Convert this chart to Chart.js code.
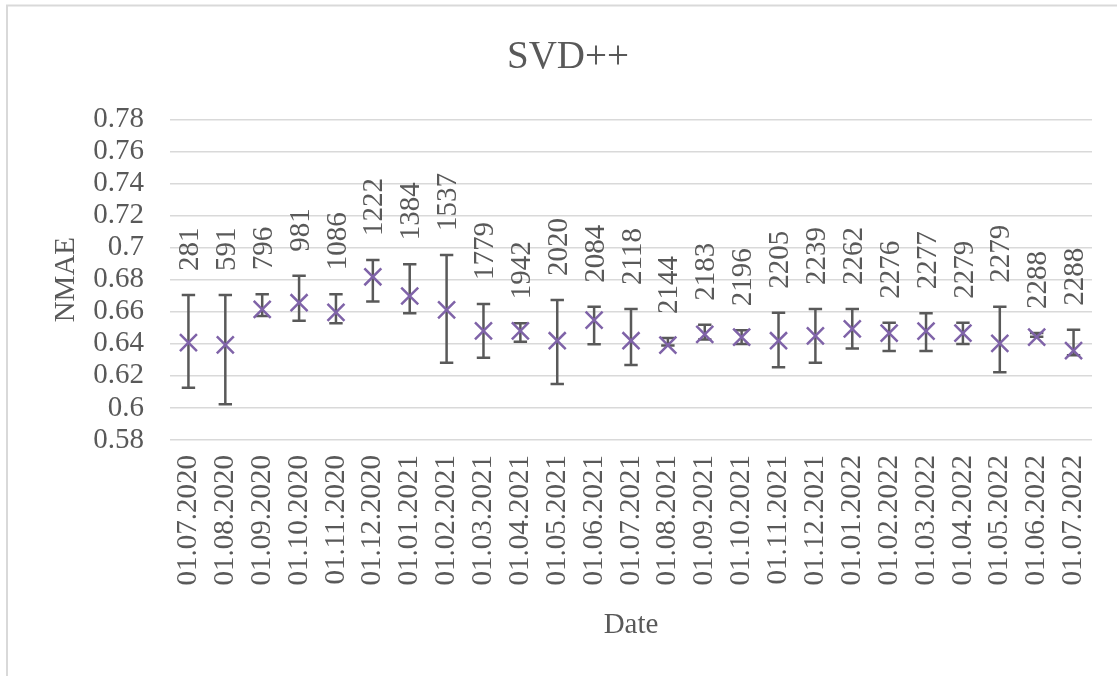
<!DOCTYPE html>
<html>
<head>
<meta charset="utf-8">
<script src="https://cdn.jsdelivr.net/npm/chart.js@4/dist/chart.umd.min.js"></script>
<style>
  html, body { margin: 0; padding: 0; background: #ffffff; overflow: hidden; }
  canvas { display: block; }
</style>
</head>
<body>
<canvas id="c" width="1117" height="676"></canvas>
<script>
// ---- data ----
const dates = ['01.07.2020','01.08.2020','01.09.2020','01.10.2020','01.11.2020','01.12.2020',
  '01.01.2021','01.02.2021','01.03.2021','01.04.2021','01.05.2021','01.06.2021','01.07.2021',
  '01.08.2021','01.09.2021','01.10.2021','01.11.2021','01.12.2021','01.01.2022','01.02.2022',
  '01.03.2022','01.04.2022','01.05.2022','01.06.2022','01.07.2022'];
const nmae = [0.6407,0.6393,0.6615,0.6656,0.6596,0.6818,0.6698,0.6611,0.6480,0.6480,0.6419,0.6548,0.6419,
  0.6392,0.6459,0.6442,0.6419,0.6449,0.6493,0.6467,0.6479,0.6467,0.6403,0.6441,0.6357];
const errLow = [0.6126,0.6023,0.6573,0.6544,0.6528,0.6663,0.6590,0.6282,0.6313,0.6413,0.6149,0.6397,0.6268,
  0.6390,0.6426,0.6399,0.6253,0.6282,0.6370,0.6355,0.6355,0.6399,0.6222,0.6444,0.6328];
const errHigh = [0.6704,0.6704,0.6709,0.6825,0.6709,0.6923,0.6896,0.6954,0.6648,0.6528,0.6673,0.6631,0.6617,
  0.6436,0.6519,0.6484,0.6594,0.6617,0.6617,0.6531,0.6590,0.6531,0.6631,0.6467,0.6488];
const counts = [281,591,796,981,1086,1222,1384,1537,1779,1942,2020,2084,2118,2144,2183,2196,2205,2239,
  2262,2276,2277,2279,2279,2288,2288];
const yTickValues = [0.58,0.60,0.62,0.64,0.66,0.68,0.70,0.72,0.74,0.76,0.78];

const TEXT = '#595959';
const FONT = 'Liberation Serif';

const chartBorder = {
  id: 'chartBorder',
  beforeDraw(chart) {
    const ctx = chart.ctx;
    ctx.save();
    ctx.fillStyle = '#ffffff';
    ctx.fillRect(0, 0, chart.width, chart.height);
    ctx.strokeStyle = '#d9d9d9';
    ctx.lineWidth = 2;
    ctx.beginPath();
    ctx.moveTo(7, chart.height);
    ctx.lineTo(7, 5.5);
    ctx.lineTo(chart.width, 5.5);
    ctx.stroke();
    ctx.restore();
  }
};

const errorBars = {
  id: 'errorBars',
  beforeDatasetsDraw(chart) {
    const ctx = chart.ctx, xs = chart.scales.x, ys = chart.scales.y;
    ctx.save();
    ctx.strokeStyle = '#595959';
    ctx.lineWidth = 2.5;
    const cap = 6.7;
    for (let i = 0; i < nmae.length; i++) {
      const x = xs.getPixelForValue(i);
      const y1 = ys.getPixelForValue(errLow[i]);
      const y2 = ys.getPixelForValue(errHigh[i]);
      ctx.beginPath();
      ctx.moveTo(x, y1); ctx.lineTo(x, y2);
      ctx.moveTo(x - cap, y1); ctx.lineTo(x + cap, y1);
      ctx.moveTo(x - cap, y2); ctx.lineTo(x + cap, y2);
      ctx.stroke();
    }
    ctx.restore();
  },
  afterDatasetsDraw(chart) {
    const ctx = chart.ctx, xs = chart.scales.x, ys = chart.scales.y;
    ctx.save();
    ctx.fillStyle = TEXT;
    ctx.font = '29px "' + FONT + '"';
    ctx.textAlign = 'left';
    ctx.textBaseline = 'middle';
    for (let i = 0; i < counts.length; i++) {
      const x = xs.getPixelForValue(i);
      const y = ys.getPixelForValue(errHigh[i]);
      ctx.save();
      ctx.translate(x + 2, y - 24);
      ctx.rotate(-Math.PI / 2);
      ctx.fillText(String(counts[i]), 0, 0);
      ctx.restore();
    }
    ctx.restore();
  }
};

new Chart(document.getElementById('c'), {
  type: 'line',
  data: {
    labels: dates,
    datasets: [{
      data: nmae,
      showLine: false,
      pointStyle: 'crossRot',
      pointRadius: 12,
      pointHoverRadius: 12,
      pointBorderWidth: 2.5,
      pointHoverBorderWidth: 2.5,
      borderColor: '#7F63A8',
      backgroundColor: '#7F63A8'
    }]
  },
  options: {
    responsive: false,
    animation: false,
    events: [],
    layout: { padding: { left: 44, right: 25, top: 0, bottom: 0 } },
    plugins: {
      legend: { display: false },
      tooltip: { enabled: false },
      title: {
        display: true,
        text: 'SVD++',
        color: TEXT,
        font: { family: FONT, size: 39, weight: 'normal' },
        padding: { top: 34, bottom: 38.5 }
      }
    },
    scales: {
      x: {
        type: 'category',
        offset: true,
        grid: { display: false, drawTicks: false },
        border: { display: false },
        ticks: {
          autoSkip: false, minRotation: 90, maxRotation: 90, padding: 15,
          color: TEXT, font: { family: FONT, size: 29 }
        },
        title: {
          display: true, text: 'Date', color: TEXT,
          font: { family: FONT, size: 29 },
          padding: { top: 0, bottom: 33.6 }
        },
        afterFit(scale) { scale.height = 236; scale.paddingLeft = 0; scale.paddingRight = 0; }
      },
      y: {
        min: 0.58, max: 0.78,
        afterBuildTicks(scale) { scale.ticks = yTickValues.map(v => ({ value: v })); },
        grid: { color: '#d9d9d9', lineWidth: 1.6, drawTicks: false },
        border: { display: false },
        ticks: {
          autoSkip: false,
          padding: 26, color: TEXT, font: { family: FONT, size: 29 },
          callback: v => String(Number(v.toFixed(2)))
        },
        title: {
          display: true, text: 'NMAE', color: TEXT,
          font: { family: FONT, size: 29 },
          padding: { top: 5, bottom: 0 }
        },
        afterFit(scale) { scale.width = 126; scale.paddingTop = 0; scale.paddingBottom = 0; }
      }
    }
  },
  plugins: [chartBorder, errorBars]
});
</script>
</body>
</html>
